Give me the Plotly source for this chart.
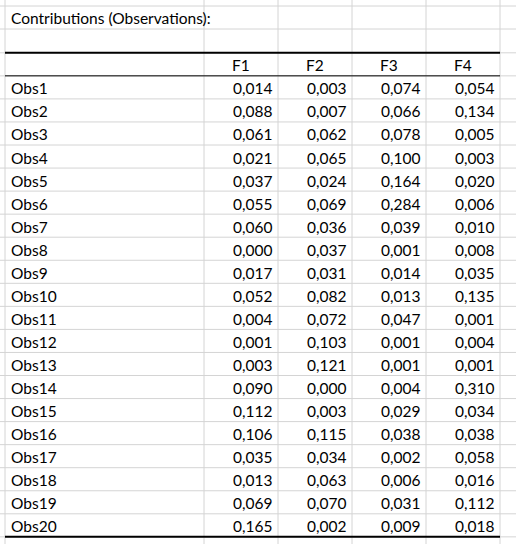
import plotly.graph_objects as go

# Table contents
obs = ['Obs%d' % i for i in range(1, 21)]
factors = ['F1', 'F2', 'F3', 'F4']
f1 = [0.014, 0.088, 0.061, 0.021, 0.037, 0.055, 0.060, 0.000, 0.017, 0.052,
      0.004, 0.001, 0.003, 0.090, 0.112, 0.106, 0.035, 0.013, 0.069, 0.165]
f2 = [0.003, 0.007, 0.062, 0.065, 0.024, 0.069, 0.036, 0.037, 0.031, 0.082,
      0.072, 0.103, 0.121, 0.000, 0.003, 0.115, 0.034, 0.063, 0.070, 0.002]
f3 = [0.074, 0.066, 0.078, 0.100, 0.164, 0.284, 0.039, 0.001, 0.014, 0.013,
      0.047, 0.001, 0.001, 0.004, 0.029, 0.038, 0.002, 0.006, 0.031, 0.009]
f4 = [0.054, 0.134, 0.005, 0.003, 0.020, 0.006, 0.010, 0.008, 0.035, 0.135,
      0.001, 0.004, 0.001, 0.310, 0.034, 0.038, 0.058, 0.016, 0.112, 0.018]
title = 'Contributions (Observations):'

W, H = 516, 544
col_x = [5, 204, 278, 352, 426, 500]
row_h = 23.05
header_top = 52.8
rows_y = [6, 29] + [header_top + i * row_h for i in range(23)]
font = dict(family='Lato, Noto Sans, sans-serif', size=15.5, color='black')

fig = go.Figure()
shapes = []
# light gridlines
for x in col_x:
    shapes.append(dict(type='line', x0=x, x1=x, y0=0, y1=H, line=dict(color='#d4d4d4', width=1)))
for y in rows_y:
    shapes.append(dict(type='line', x0=0, x1=W, y0=y, y1=y, line=dict(color='#d4d4d4', width=1)))
# table borders
bottom = header_top + 21 * row_h
shapes.append(dict(type='line', x0=5, x1=500, y0=header_top, y1=header_top, line=dict(color='black', width=2)))
shapes.append(dict(type='line', x0=5, x1=500, y0=header_top + row_h, y1=header_top + row_h, line=dict(color='black', width=1)))
shapes.append(dict(type='line', x0=5, x1=500, y0=bottom, y1=bottom, line=dict(color='black', width=2)))

ann = [dict(x=9, y=18, text=title, xanchor='left')]
for j, f in enumerate(factors):
    ann.append(dict(x=(col_x[j + 1] + col_x[j + 2]) / 2, y=header_top + row_h / 2 + 1, text=f, xanchor='center'))
cols = [f1, f2, f3, f4]
for i, name in enumerate(obs):
    yc = header_top + row_h * (i + 1.5) + 1
    ann.append(dict(x=9, y=yc, text=name, xanchor='left'))
    for j, vals in enumerate(cols):
        ann.append(dict(x=col_x[j + 2] - 4, y=yc, text=('%.3f' % vals[i]).replace('.', ','), xanchor='right'))
for a in ann:
    a.update(showarrow=False, yanchor='middle', font=font, xref='x', yref='y')

fig.update_layout(
    width=W, height=H,
    margin=dict(l=0, r=0, t=0, b=0),
    plot_bgcolor='white', paper_bgcolor='white',
    xaxis=dict(range=[0, W], visible=False, fixedrange=True),
    yaxis=dict(range=[H, 0], visible=False, fixedrange=True),
    shapes=shapes, annotations=ann, showlegend=False,
)
fig.write_html("out.html", config=dict(displayModeBar=False))

# drop the default page margin so the figure sits at the window corner
with open("out.html", encoding="utf-8") as fh:
    page = fh.read()
page = page.replace("<head>", "<head><style>html,body{margin:0;padding:0;overflow:hidden}</style>", 1)
with open("out.html", "w", encoding="utf-8") as fh:
    fh.write(page)
